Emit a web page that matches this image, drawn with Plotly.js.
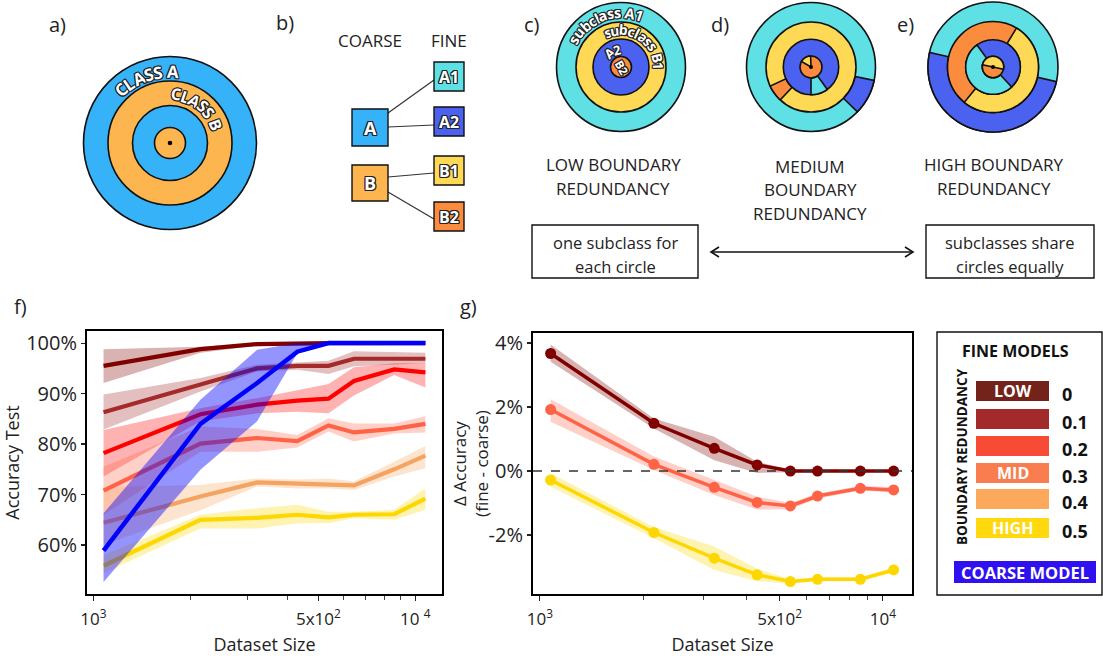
<!DOCTYPE html>
<html><head><meta charset="utf-8">
<script src="https://cdn.plot.ly/plotly-3.0.1.min.js"></script>
<style>body{margin:0;background:#fff}#chart{width:1103px;height:656px}</style>
</head><body><div id="chart"></div>
<script>
// ---------------- DATA ----------------
const datasetSize = [1075, 2150, 3225, 4300, 5375, 6450, 8600, 10750];
const redundancyLabels = ['0', '0.1', '0.2', '0.3', '0.4', '0.5'];
const redundancyNames = ['LOW', '', '', 'MID', '', 'HIGH'];

// panel f: test accuracy (%)
const acc_r0    = [95.5, 98.8, 99.8, 100, 100, 100, 100, 100];
const acc_r0_hi = [98.8, 99.3, 100, 100, 100, 100, 100, 100];
const acc_r0_lo = [92.1, 98.1, 99.5, 99.8, 99.8, 99.8, 99.8, 99.8];
const acc_r1    = [86.3, 91.8, 95.0, 95.5, 95.5, 96.9, 96.9, 96.9];
const acc_r1_hi = [89.8, 93.1, 95.7, 96.2, 96.5, 98.4, 98.3, 98.1];
const acc_r1_lo = [82.9, 90.4, 94.4, 94.7, 93.9, 95.4, 95.7, 96.0];
const acc_r2    = [78.2, 85.9, 87.8, 88.6, 89.0, 92.5, 94.8, 94.2];
const acc_r2_hi = [82.8, 87.1, 89.1, 90.7, 91.9, 95.2, 96.0, 96.0];
const acc_r2_lo = [73.6, 84.5, 86.1, 86.4, 86.1, 89.6, 93.7, 91.2];
const acc_r3    = [70.8, 80.1, 81.2, 80.6, 83.7, 82.3, 83.0, 84.0];
const acc_r3_hi = [75.5, 83.5, 83.0, 81.8, 85.1, 84.1, 84.1, 85.5];
const acc_r3_lo = [66.0, 78.5, 78.5, 79.3, 82.5, 80.5, 82.1, 82.3];
const acc_r4    = [64.4, 69.6, 72.4, 72.1, 72.0, 71.8, 75.0, 77.7];
const acc_r4_hi = [71.5, 71.9, 73.2, 73.0, 73.2, 72.6, 76.5, 79.6];
const acc_r4_lo = [60.0, 66.9, 71.6, 71.2, 71.2, 70.9, 73.6, 75.2];
const acc_r5    = [55.9, 65.0, 65.4, 66.0, 65.5, 66.0, 66.1, 69.2];
const acc_r5_hi = [58.0, 66.0, 67.3, 68.0, 66.6, 66.6, 67.0, 71.2];
const acc_r5_lo = [54.4, 63.3, 63.3, 64.3, 64.3, 65.3, 65.0, 67.0];
const acc_coarse    = [58.9, 84.0, 92.1, 98.3, 100, 100, 100, 100];
const acc_coarse_hi = [66.3, 88.8, 98.7, 100, 100, 100, 100, 100];
const acc_coarse_lo = [52.7, 74.9, 84.5, 98.0, 100, 100, 100, 100];

// panel g: accuracy difference fine - coarse (%)
const delta_r0    = [3.67, 1.49, 0.71, 0.19, 0, 0, 0, 0];
const delta_r0_hi = [3.95, 1.64, 1.07, 0.29, 0.04, 0.03, 0.03, 0.03];
const delta_r0_lo = [3.41, 1.33, 0.34, -0.06, -0.04, -0.03, -0.03, -0.03];
const delta_r3    = [1.92, 0.21, -0.51, -0.98, -1.09, -0.78, -0.54, -0.59];
const delta_r3_hi = [2.24, 0.45, -0.28, -0.80, -1.00, -0.70, -0.47, -0.51];
const delta_r3_lo = [1.54, 0.03, -0.75, -1.20, -1.19, -0.86, -0.61, -0.67];
const delta_r5    = [-0.28, -1.92, -2.72, -3.24, -3.45, -3.38, -3.38, -3.09];
const delta_r5_hi = [-0.07, -1.75, -2.36, -3.05, -3.38, -3.32, -3.32, -3.02];
const delta_r5_lo = [-0.49, -2.10, -3.09, -3.44, -3.52, -3.44, -3.44, -3.16];

const accTicks = [60, 70, 80, 90, 100];
const accTickText = ['60%', '70%', '80%', '90%', '100%'];
const deltaTicks = [-2, 0, 2, 4];
const deltaTickText = ['-2%', '0%', '2%', '4%'];
const sizeTicks = [1000, 5000, 10000];
const sizeMinorTicks = [2000, 3000, 4000, 6000, 7000, 8000, 9000];
const sizeTickTextF = ['10<sup>3</sup>', '5x10<sup>2</sup>', '10 <sup>4</sup>'];
const sizeTickTextG = ['10<sup>3</sup>', '5x10<sup>2</sup>', '10<sup>4</sup>'];

// ---------------- STYLE ----------------
const W = 1103, H = 656;
const X = p => p / W, Y = p => 1 - p / H;
const FONT = 'Open Sans';
const INK = '#222';
const STROKE = '#111';
const OUT = '1px 1px 0 #222, -1px -1px 0 #222, 1px -1px 0 #222, -1px 1px 0 #222, 0 1px 0 #222, 0 -1px 0 #222, 1px 0 0 #222, -1px 0 0 #222';
const fineColors = ['#800000', '#a52a2a', '#ff0000', '#ff6347', '#f4a460', '#ffd700'];
const legendColors = ['#73231a', '#a32a2a', '#f84b36', '#f97d4f', '#fca95b', '#ffd90d'];
const coarseColor = '#0000ff';
const C_A = '#36b2f8', C_B = '#fdb54f', C_A1 = '#5ee0e4', C_A2 = '#4a62ef', C_B1 = '#fdd955', C_B2 = '#fb8c3e';

function rgba(hex, a) {
  const n = parseInt(hex.slice(1), 16);
  return `rgba(${n >> 16},${(n >> 8) & 255},${n & 255},${a})`;
}

// ---------------- TRACES ----------------
const traces = [];
function band(x, hi, lo, color, alpha, xa, ya) {
  traces.push({x: x.concat(x.slice().reverse()), y: hi.concat(lo.slice().reverse()), xaxis: xa, yaxis: ya,
    type: 'scatter', mode: 'lines', fill: 'toself', fillcolor: rgba(color, alpha), line: {width: 0, color: 'rgba(0,0,0,0)'}, hoverinfo: 'skip', showlegend: false});
}
function line(x, y, color, width, xa, ya, markers) {
  traces.push({x, y, xaxis: xa, yaxis: ya, type: 'scatter', mode: markers ? 'lines+markers' : 'lines',
    line: {color, width}, marker: {size: 11, color}, showlegend: false});
}
const fSeries = [[acc_r0, acc_r0_hi, acc_r0_lo], [acc_r1, acc_r1_hi, acc_r1_lo], [acc_r2, acc_r2_hi, acc_r2_lo],
                 [acc_r3, acc_r3_hi, acc_r3_lo], [acc_r4, acc_r4_hi, acc_r4_lo], [acc_r5, acc_r5_hi, acc_r5_lo]];
fSeries.forEach((s, i) => band(datasetSize, s[1], s[2], fineColors[i], 0.3, 'x', 'y'));
fSeries.forEach((s, i) => line(datasetSize, s[0], fineColors[i], 4.2, 'x', 'y'));
band(datasetSize, acc_coarse_hi, acc_coarse_lo, coarseColor, 0.42, 'x', 'y');
line(datasetSize, acc_coarse, coarseColor, 4.5, 'x', 'y');

const gSeries = [[delta_r0, delta_r0_hi, delta_r0_lo, fineColors[0]], [delta_r3, delta_r3_hi, delta_r3_lo, fineColors[3]], [delta_r5, delta_r5_hi, delta_r5_lo, fineColors[5]]];
gSeries.forEach(s => band(datasetSize, s[1], s[2], s[3], 0.3, 'x2', 'y2'));
gSeries.forEach(s => line(datasetSize, s[0], s[3], 3.5, 'x2', 'y2', true));

// ---------------- DIAGRAM HELPERS ----------------
const shapes = [];
const ann = [];
function circle(cx, cy, r, fill, lw) {
  shapes.push({type: 'circle', xref: 'paper', yref: 'paper', x0: X(cx - r), x1: X(cx + r), y0: Y(cy + r), y1: Y(cy - r),
    fillcolor: fill, line: {color: STROKE, width: lw === undefined ? 1.6 : lw}, layer: 'above'});
}
function sector(cx, cy, r0, r1, a0, a1, fill) {
  const n = Math.max(10, Math.ceil(Math.abs(a1 - a0) / 3));
  const pt = (r, a) => X(cx + r * Math.cos(a * Math.PI / 180)).toFixed(5) + ',' + Y(cy - r * Math.sin(a * Math.PI / 180)).toFixed(5);
  let d = '';
  for (let i = 0; i <= n; i++) d += (i ? 'L' : 'M') + pt(r1, a0 + (a1 - a0) * i / n);
  if (r0 > 0) { for (let i = n; i >= 0; i--) d += 'L' + pt(r0, a0 + (a1 - a0) * i / n); }
  else d += 'L' + pt(0, 0);
  d += 'Z';
  shapes.push({type: 'path', xref: 'paper', yref: 'paper', path: d, fillcolor: fill, line: {color: STROKE, width: 1.6}, layer: 'above'});
}
function rect(x0, y0, x1, y1, fill, lw, lc) {
  shapes.push({type: 'rect', xref: 'paper', yref: 'paper', x0: X(x0), x1: X(x1), y0: Y(y1), y1: Y(y0),
    fillcolor: fill, line: {color: lc || STROKE, width: lw}, layer: 'above'});
}
function seg(x0, y0, x1, y1, w, c) {
  shapes.push({type: 'line', xref: 'paper', yref: 'paper', x0: X(x0), x1: X(x1), y0: Y(y0), y1: Y(y1), line: {color: c || '#333', width: w}, layer: 'above'});
}
function text(t, x, y, size, opts) {
  opts = opts || {};
  ann.push({xref: 'paper', yref: 'paper', x: X(x), y: Y(y), text: t, showarrow: false,
    xanchor: opts.xanchor || 'center', yanchor: 'middle', textangle: opts.angle || 0,
    font: {family: FONT, size, color: opts.color || INK, weight: opts.weight || 400, shadow: opts.shadow || 'none'}});
}
const ctx = document.createElement('canvas').getContext('2d');
function arcText(str, cx, cy, r, aMid, size, weight) {
  ctx.font = `${weight} ${size}px "${FONT}"`;
  const ch = [...str], w = ch.map(c => ctx.measureText(c).width), tot = w.reduce((s, v) => s + v, 0);
  const start = aMid + (tot / 2) / r * 180 / Math.PI;
  let cum = 0;
  ch.forEach((c, i) => {
    const a = start - (cum + w[i] / 2) / r * 180 / Math.PI;
    cum += w[i];
    if (c === ' ') return;
    const rad = a * Math.PI / 180;
    text(c, cx + r * Math.cos(rad), cy - r * Math.sin(rad), size, {angle: 90 - a, color: '#fff', weight, shadow: OUT});
  });
}

// ---------------- PANEL a ----------------
text('a)', 57, 24, 20);
circle(170, 143, 86.5, C_A); circle(170, 143, 62, C_B); circle(170, 143, 37.5, C_A); circle(170, 143, 15.5, C_B);
circle(170, 143, 2.3, '#000', 0);
arcText('CLASS A', 170, 143, 72, 110, 17, 700);
arcText('CLASS B', 170, 143, 49, 52, 16, 700);

// ---------------- PANEL b ----------------
text('b)', 285, 23, 20);
text('COARSE', 370, 40, 17);
text('FINE', 449, 40, 17);
seg(388, 113, 434, 80, 1.2); seg(388, 127, 434, 125, 1.2); seg(388, 177, 434, 173, 1.2); seg(388, 192, 434, 219, 1.2);
rect(352, 109, 388, 146, C_A, 1.4); rect(352, 165, 388, 201, C_B, 1.4);
rect(434, 62, 464, 91, C_A1, 1.4); rect(434, 107, 464, 136, C_A2, 1.4); rect(434, 156, 464, 185, C_B1, 1.4); rect(434, 202, 464, 231, C_B2, 1.4);
text('A', 370, 128, 18, {color: '#fff', weight: 700, shadow: OUT});
text('B', 370, 183, 18, {color: '#fff', weight: 700, shadow: OUT});
text('A1', 449, 77, 16, {color: '#fff', weight: 700, shadow: OUT});
text('A2', 449, 122, 16, {color: '#fff', weight: 700, shadow: OUT});
text('B1', 449, 171, 16, {color: '#fff', weight: 700, shadow: OUT});
text('B2', 449, 217, 16, {color: '#fff', weight: 700, shadow: OUT});

// ---------------- PANEL c ----------------
text('c)', 532, 24, 20);
circle(621, 67, 64.5, C_A1); circle(621, 67, 45, C_B1); circle(621, 67, 28, C_A2); circle(621, 67, 10.5, C_B2);
arcText('subclass A1', 621, 67, 54.5, 110, 14.5, 700);
arcText('subclass B1', 621, 67, 37.5, 56, 14, 700);
arcText('A2', 621, 67, 18, 118, 13, 700);
text('B2', 622, 67, 11.5, {angle: 60, color: '#fff', weight: 700, shadow: OUT});

// ---------------- PANEL d ----------------
text('d)', 720, 24, 20);
const dx = 811, dy = 67;
circle(dx, dy, 64.5, C_A1); sector(dx, dy, 45, 64.5, -44, -12, C_A2);
circle(dx, dy, 45, C_B1); sector(dx, dy, 27.7, 45, 205, 227, C_B2);
circle(dx, dy, 27.7, C_A2); sector(dx, dy, 11, 27.7, -90, -54, C_A1);
circle(dx, dy, 11, C_B2); sector(dx, dy, 0, 11, 92, 150, C_B1);
circle(dx, dy, 2, '#000', 0);

// ---------------- PANEL e ----------------
text('e)', 905, 24, 20);
const ex = 993, ey = 67;
circle(ex, ey, 65, C_A1); sector(ex, ey, 45.5, 65, 167, 347, C_A2);
circle(ex, ey, 45.5, C_B2); sector(ex, ey, 27.3, 45.5, 231, 419, C_B1);
circle(ex, ey, 27.3, C_A2); sector(ex, ey, 10.7, 27.3, 126, 313, C_A1);
circle(ex, ey, 10.7, C_B2); sector(ex, ey, 0, 10.7, -12, 168, C_B1);
circle(ex, ey, 2, '#000', 0);

// ---------------- captions ----------------
text('LOW BOUNDARY', 613, 165, 17); text('REDUNDANCY', 613, 188, 17);
text('MEDIUM', 810, 166, 17); text('BOUNDARY', 810, 190, 17); text('REDUNDANCY', 810, 214, 17);
text('HIGH BOUNDARY', 994, 165, 17); text('REDUNDANCY', 994, 188, 17);
rect(532, 225, 698, 278, 'rgba(0,0,0,0)', 1.4);
rect(926, 225, 1094, 278, 'rgba(0,0,0,0)', 1.4);
text('one subclass for', 615, 242, 16.5); text('each circle', 615, 266, 16.5);
text('subclasses share', 1010, 242, 16.5); text('circles equally', 1010, 266, 16.5);
seg(711, 252, 913, 252, 1.6, '#111');
shapes.push({type: 'path', xref: 'paper', yref: 'paper', path: `M${X(719)},${Y(247)}L${X(711)},${Y(252)}L${X(719)},${Y(257)}`, line: {color: '#111', width: 1.6}, layer: 'above'});
shapes.push({type: 'path', xref: 'paper', yref: 'paper', path: `M${X(905)},${Y(247)}L${X(913)},${Y(252)}L${X(905)},${Y(257)}`, line: {color: '#111', width: 1.6}, layer: 'above'});

// ---------------- chart labels ----------------
text('f)', 20, 306, 20);
text('g)', 468, 306, 20);
shapes.push({type: 'line', xref: 'x2 domain', yref: 'y2', x0: 0, x1: 1, y0: 0, y1: 0, line: {color: '#333', width: 1.5, dash: 'dash'}, layer: 'above'});

// ---------------- legend panel ----------------
rect(937, 332, 1102, 595, '#fff', 1.4);
text('FINE MODELS', 1015, 351, 16, {weight: 700, color: '#111'});
text('BOUNDARY REDUNDANCY', 962, 457, 13.5, {weight: 700, color: '#111', angle: -90});
const barTops = [381, 409, 436, 463, 489, 518];
legendColors.forEach((c, i) => {
  rect(976, barTops[i], 1049, barTops[i] + 20, c, 0);
  if (redundancyNames[i]) text(redundancyNames[i], 1012.5, barTops[i] + 10, 16, {weight: 700, color: '#fff'});
  text(redundancyLabels[i], 1060, barTops[i] + 12.5, 18, {weight: 700, color: '#111', xanchor: 'left'});
});
rect(954, 561, 1096, 583, '#2f10f0', 0);
text('COARSE MODEL', 1025, 572, 16.5, {weight: 700, color: '#fff'});

// ---------------- LAYOUT ----------------
const xTickFont = {family: FONT, size: 17, color: INK};
const yTickFont = {family: FONT, size: 20, color: INK};
const baseX = {type: 'log', tickvals: sizeTicks, ticks: 'outside', ticklen: 5, tickwidth: 1.2, tickcolor: '#222',
  minor: {tickvals: sizeMinorTicks, ticks: 'outside', ticklen: 4, tickwidth: 1, tickcolor: '#444', showgrid: false},
  ticklabelstandoff: 4,
  showline: true, linecolor: '#000', linewidth: 2, mirror: true, showgrid: false, zeroline: false, tickfont: xTickFont,
  title: {text: 'Dataset Size', font: {family: FONT, size: 18, color: INK}}};
const baseY = {ticks: 'outside', ticklen: 4, tickwidth: 1.2, tickcolor: '#222', showline: true, linecolor: '#000', linewidth: 2,
  mirror: true, showgrid: false, zeroline: false, tickfont: yTickFont};
const layout = {
  width: W, height: H, margin: {l: 0, r: 0, t: 0, b: 0, pad: 0},
  paper_bgcolor: '#fff', plot_bgcolor: '#fff', showlegend: false,
  font: {family: FONT, color: INK},
  xaxis: Object.assign({}, baseX, {domain: [87 / W, 442 / W], anchor: 'y', range: [2.980, 4.083], ticktext: sizeTickTextF}),
  yaxis: Object.assign({}, baseY, {domain: [1 - 594 / H, 1 - 331 / H], anchor: 'x', range: [50.3, 102.4], tickvals: accTicks, ticktext: accTickText,
    title: {text: 'Accuracy Test', standoff: 12, font: {family: FONT, size: 18, color: INK}}}),
  xaxis2: Object.assign({}, baseX, {domain: [533 / W, 912 / W], anchor: 'y2', range: [2.980, 4.085], ticktext: sizeTickTextG}),
  yaxis2: Object.assign({}, baseY, {domain: [1 - 594 / H, 1 - 333 / H], anchor: 'x2', range: [-3.84, 4.31], tickvals: deltaTicks, ticktext: deltaTickText,
    title: {text: 'Δ Accuracy<br>(fine - coarse)', font: {family: FONT, size: 17, color: INK}}}),
  shapes, annotations: ann
};
Plotly.newPlot('chart', traces, layout, {displayModeBar: false, staticPlot: true});
</script></body></html>
